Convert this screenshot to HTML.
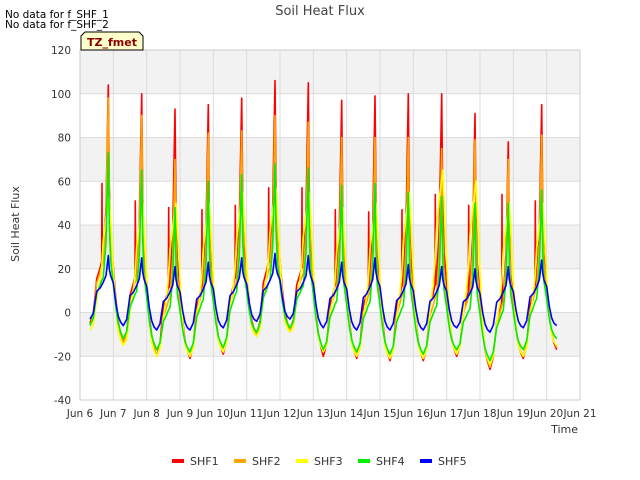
<!DOCTYPE html>
<html><head><meta charset="utf-8"><style>
body{margin:0;background:#fff;font-family:"DejaVu Sans","Liberation Sans",sans-serif;}
svg{display:block}
</style></head><body>
<svg id="chart" width="640" height="480" xmlns="http://www.w3.org/2000/svg">
<rect width="640" height="480" fill="#fff"/>
<g id="bands"></g>
<g id="grid"></g>
<g id="series"></g>
<g id="axes"></g>
<text x="320" y="15" text-anchor="middle" font-size="13" fill="#444">Soil Heat Flux</text>
<text x="5" y="18" font-size="10.5" fill="#000">No data for f_SHF_1</text>
<text x="5" y="28" font-size="10.5" fill="#000">No data for f_SHF_2</text>
<g>
<path d="M81,50 L81,36 L85,32 L139,32 L143,36 L143,50 Z" fill="#ffffcc" stroke="#000" stroke-width="1"/>
<text x="112" y="46" text-anchor="middle" font-size="11" font-weight="bold" fill="#8b0000">TZ_fmet</text>
</g>
<text transform="translate(19,224) rotate(-90)" text-anchor="middle" font-size="11" fill="#333">Soil Heat Flux</text>
<text x="578" y="433" text-anchor="end" font-size="11" fill="#333">Time</text>
<g id="legend"></g>
</svg>
<script>
const days=["Jun 6","Jun 7","Jun 8","Jun 9","Jun 10","Jun 11","Jun 12","Jun 13","Jun 14","Jun 15","Jun 16","Jun 17","Jun 18","Jun 19","Jun 20","Jun 21"];
const yTicks=[-40,-20,0,20,40,60,80,100,120];
const seriesNames=["SHF1","SHF2","SHF3","SHF4","SHF5"];
const seriesColors=["#ff0000","#ffa500","#ffff00","#00ee00","#0000ff"];
const shf1Peak=[104,100,93,95,98,106,105,97,99,100,100,91,78,95];
const shf1Pre=[59,51,48,47,49,57,57,47,46,47,54,49,54,51];
const shf1Min=[-5,-14,-20,-21,-19,-10,-8,-20,-21,-22,-22,-20,-26,-21,-17];
const shf2Peak=[98,90,70,82,83,90,87,80,80,80,75,79,70,81];
const shf2Min=[-6,-14,-20,-20,-18,-10,-8,-18,-20,-21,-21,-19,-25,-20,-16];
const shf3Peak=[52,50,50,50,55,57,55,48,50,55,65,60,50,50];
const shf3Min=[-8,-15,-20,-20,-18,-11,-9,-18,-20,-21,-21,-19,-24,-20,-15];
const shf4Peak=[73,65,48,60,63,68,66,58,59,55,53,50,50,56];
const shf4Min=[-6,-12,-17,-18,-16,-9,-7,-17,-18,-19,-19,-17,-22,-17,-12];
const shf5Peak=[26,25,21,23,25,27,26,23,25,22,21,20,21,24];
const shf5Min=[-3,-6,-8,-8,-7,-4,-3,-7,-8,-8,-8,-7,-9,-7,-6];
const profT=[0.30,0.40,0.50,0.60,0.65,0.70,0.78,0.85,0.88,0.92,1.00,1.08,1.15,1.22,1.30];
const profSharp=[0,0.05,0.2,0.25,0.28,0.3,0.5,1,0.6,0.4,0.28,0.15,0.07,0.03,0];
const profBroad=[0,0.05,0.25,0.4,0.5,0.7,0.85,0.95,1,0.85,0.5,0.22,0.08,0.03,0];
const profBlue=[0,0.1,0.45,0.5,0.55,0.6,0.7,1,0.8,0.7,0.6,0.3,0.12,0.04,0];

const X0=80,X1=580,Y0=400,Y1=50;
const xs=d=>X0+(d)/15*(X1-X0);
const ys=v=>Y0-(v+40)/160*(Y0-Y1);
const NS="http://www.w3.org/2000/svg";
function mk(tag,attrs,parent){const e=document.createElementNS(NS,tag);for(const k in attrs)e.setAttribute(k,attrs[k]);parent.appendChild(e);return e;}
const bands=document.getElementById('bands'),grid=document.getElementById('grid'),axes=document.getElementById('axes');
for(let i=0;i<yTicks.length-1;i++){
  if(i%2===1){const r=mk('rect',{x:X0,y:ys(yTicks[i+1]),width:X1-X0,height:ys(yTicks[i])-ys(yTicks[i+1]),fill:'#f2f2f2'},bands);
  
  }
}
yTicks.forEach(v=>{
  const l=mk('line',{x1:X0,x2:X1,y1:ys(v),y2:ys(v),stroke:'#dcdcdc','stroke-width':1},grid);
  
  
  const t=mk('text',{x:X0-9,y:ys(v)+4,'text-anchor':'end','font-size':'10.5',fill:'#333'},axes);
  t.textContent=v;
  
  
});
days.forEach((d,i)=>{
  const l=mk('line',{x1:xs(i),x2:xs(i),y1:Y1,y2:Y0,stroke:'#dcdcdc','stroke-width':1},grid);
  
  
  const t=mk('text',{x:xs(i),y:417,'text-anchor':'middle','font-size':'10.5',fill:'#333'},axes);
  t.textContent=d;
  
  
});
const frame=mk('rect',{x:X0,y:Y1,width:X1-X0,height:Y0-Y1,fill:'none',stroke:'#ccc'},axes);



function build(peaks,mins,prof,pre){
  const pts=[];
  for(let d=0;d<peaks.length;d++){
    for(let k=0;k<profT.length;k++){
      if(d>0&&k===0)continue;
      const f=(profT[k]-profT[0])/(profT[profT.length-1]-profT[0]);
      const base=mins[d]+(mins[d+1]-mins[d])*f;
      let v=base+(peaks[d]-base)*prof[k];
      pts.push([d+profT[k],v]);
      if(pre&&k===4){pts.push([d+0.66,pre[d]]);pts.push([d+0.67,base+(peaks[d]-base)*prof[k]]);}
    }
  }
  return pts;
}
const data=[build(shf1Peak,shf1Min,profSharp,shf1Pre),build(shf2Peak,shf2Min,profSharp,null),build(shf3Peak,shf3Min,profBroad,null),build(shf4Peak,shf4Min,profSharp,null),build(shf5Peak,shf5Min,profBlue,null)];
const sg=document.getElementById('series');
data.forEach((pts,i)=>{
  const p=mk('polyline',{points:pts.map(q=>xs(q[0]).toFixed(1)+','+ys(q[1]).toFixed(1)).join(' '),fill:'none',stroke:seriesColors[i],'stroke-width':1.6,'stroke-linejoin':'round'},sg);
  
  
});
const lg=document.getElementById('legend');
seriesNames.forEach((n,i)=>{
  const x=172+i*62;
  const g=mk('g',{},lg);
  
  
  mk('rect',{x:x,y:459,width:12,height:4,fill:seriesColors[i]},g);
  const t=mk('text',{x:x+18,y:465,'font-size':'11',fill:'#333'},g);
  t.textContent=n;
});
</script>
</body></html>
